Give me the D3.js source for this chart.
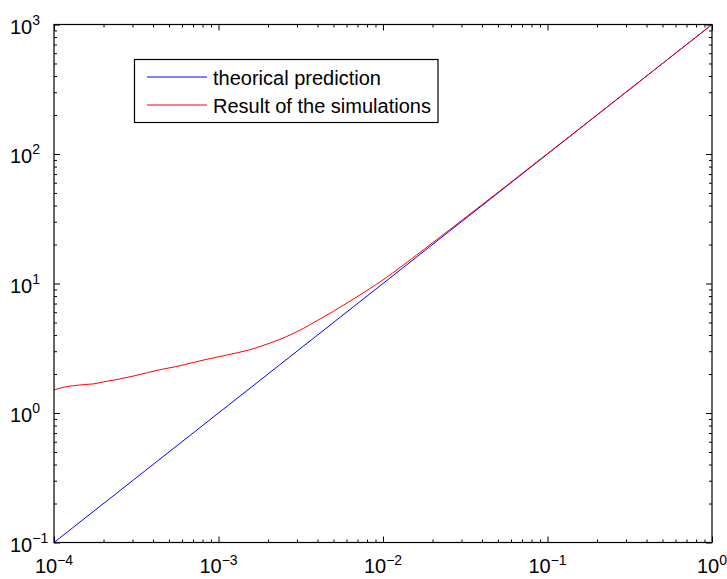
<!DOCTYPE html>
<html>
<head>
<meta charset="utf-8">
<script src="https://cdn.jsdelivr.net/npm/d3@7"></script>
<style>
  html, body { margin: 0; padding: 0; background: #fff; }
  svg { display: block; }
  text { font-family: "Liberation Sans", Arial, Helvetica, sans-serif; fill: #000; }
</style>
</head>
<body>
<svg id="chart" width="727" height="579"></svg>
<script>
// Theoretical prediction: straight line on log-log axes
const theoryX = [1e-4, 1];
const theoryY = [0.1, 1000];

// Simulation results
const simX = [1.0e-4, 1.1e-4, 1.2e-4, 1.4e-4, 1.55e-4, 1.75e-4, 2.0e-4, 2.5e-4, 3.1e-4, 3.7e-4,
              4.4e-4, 5.5e-4, 7.0e-4, 8.5e-4, 1.12e-3, 1.55e-3, 2.06e-3, 2.6e-3, 3.28e-3, 4.04e-3,
              5.0e-3, 6.3e-3, 8.0e-3, 1.0e-2, 1.3e-2, 1.6e-2, 2.0e-2, 2.55e-2, 3.2e-2, 4.0e-2,
              5.0e-2, 6.5e-2, 8.0e-2, 1.0e-1, 1.4e-1, 2.0e-1, 4.0e-1, 1.0];
const simY = [1.505, 1.56, 1.6, 1.64, 1.66, 1.68, 1.74, 1.83, 1.94, 2.05,
              2.16, 2.28, 2.45, 2.6, 2.8, 3.08, 3.47, 3.9, 4.5, 5.23,
              6.1, 7.3, 8.85, 10.65, 13.6, 16.6, 20.6, 26.1, 32.6, 40.6,
              50.6, 65.6, 80.7, 100.7, 140.6, 200.5, 400.3, 1000];

// Axis decades and legend entries
const xDecades = [-4, -3, -2, -1, 0];
const yDecades = [-1, 0, 1, 2, 3];
const legendLabels = ["theorical prediction", "Result of the simulations"];
const seriesColors = ["#0000ff", "#ff0000"];

const svg = d3.select("#chart");
const L = 54, R = 712, T = 24.5, B = 542.5;

const x = d3.scaleLog().domain([1e-4, 1]).range([L, R]);
const y = d3.scaleLog().domain([0.1, 1000]).range([B, T]);

const isMajor = v => Math.abs(Math.log10(v) - Math.round(Math.log10(v))) < 1e-9;
const xMajor = x.ticks().filter(isMajor), xMinor = x.ticks().filter(v => !isMajor(v));
const yMajor = y.ticks().filter(isMajor), yMinor = y.ticks().filter(v => !isMajor(v));

function drawAxis(gen, scale, tx, ty, major, minor) {
  const g = svg.append("g").attr("transform", `translate(${tx},${ty})`);
  g.append("g").call(gen(scale).tickValues(minor).tickSize(-3).tickFormat(""));
  g.append("g").call(gen(scale).tickValues(major).tickSize(-6).tickFormat(""));
  g.selectAll("path.domain").remove();
  g.selectAll("line").attr("stroke", "#000").attr("stroke-width", 1);
}
drawAxis(d3.axisBottom, x, 0, B, xMajor, xMinor);
drawAxis(d3.axisTop, x, 0, T, xMajor, xMinor);
drawAxis(d3.axisLeft, y, L, 0, yMajor, yMinor);
drawAxis(d3.axisRight, y, R, 0, yMajor, yMinor);

// Data lines
const line = d3.line().x(d => x(d[0])).y(d => y(d[1])).curve(d3.curveMonotoneX);
svg.append("path")
  .attr("d", line(d3.zip(theoryX, theoryY)))
  .attr("fill", "none").attr("stroke", seriesColors[0]).attr("stroke-width", 1);
svg.append("path")
  .attr("d", line(d3.zip(simX, simY)))
  .attr("fill", "none").attr("stroke", seriesColors[1]).attr("stroke-width", 1)
  .attr("stroke-linejoin", "round");

// Plot frame
svg.append("rect")
  .attr("x", L).attr("y", T).attr("width", R - L).attr("height", B - T)
  .attr("fill", "none").attr("stroke", "#000").attr("stroke-width", 1.2);

// Tick labels as powers of ten
xDecades.forEach(e => {
  const t = svg.append("text")
    .attr("x", x(Math.pow(10, e))).attr("y", B + 30)
    .attr("text-anchor", "middle").attr("font-size", 20);
  t.append("tspan").text("10");
  t.append("tspan").attr("dy", -8).attr("font-size", 14).text(e < 0 ? "\u2212" + (-e) : String(e));
});
yDecades.forEach(e => {
  const t = svg.append("text")
    .attr("x", 10).attr("y", y(Math.pow(10, e)) + 9)
    .attr("text-anchor", "start").attr("font-size", 20);
  t.append("tspan").text("10");
  t.append("tspan").attr("dy", -9).attr("font-size", 14).text(e < 0 ? "\u2212" + (-e) : String(e));
});

// Legend
const lg = svg.append("g");
lg.append("rect")
  .attr("x", 134.5).attr("y", 59.5).attr("width", 303.5).attr("height", 63)
  .attr("fill", "#fff").attr("stroke", "#000").attr("stroke-width", 1.2);
const legendY = [77, 105];
legendLabels.forEach((lab, i) => {
  lg.append("line")
    .attr("x1", 147).attr("x2", 207).attr("y1", legendY[i]).attr("y2", legendY[i])
    .attr("stroke", seriesColors[i]).attr("stroke-width", 1);
  lg.append("text")
    .attr("x", 213).attr("y", legendY[i] + 8)
    .attr("font-size", 20).text(lab);
});
</script>
</body>
</html>
